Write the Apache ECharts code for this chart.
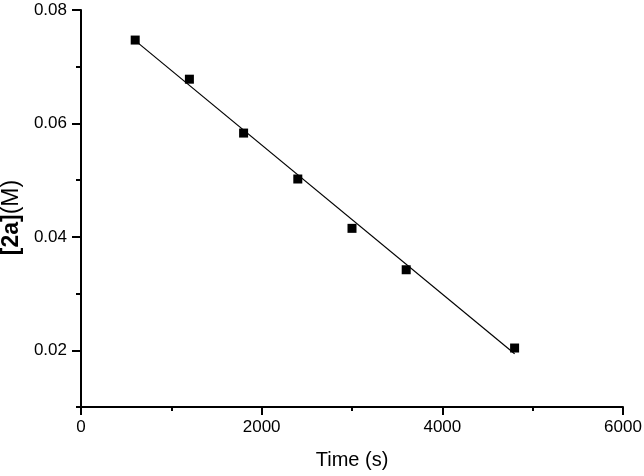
<!DOCTYPE html>
<html>
<head>
<meta charset="utf-8">
<script src="https://cdn.jsdelivr.net/npm/echarts@6/dist/echarts.min.js"></script>
<style>
html,body{margin:0;padding:0;background:#fff;}
#c{width:644px;height:476px;}
</style>
</head>
<body>
<div id="c"></div>
<script>
// Data
var timeS = [600, 1200, 1800, 2400, 3000, 3600, 4800];
var conc2a = [0.0747, 0.0678, 0.0583, 0.0502, 0.0415, 0.0342, 0.0204];
// Linear fit line endpoints
var fitX = [600, 4800];
var fitY = [0.0746, 0.0194];
// Tick labels
var yMajorTicks = [0.02, 0.04, 0.06, 0.08];

var F = '"Liberation Sans", Arial, sans-serif';
var chart = echarts.init(document.getElementById('c'), null, {renderer: 'canvas'});
var axisLineStyle = {color: '#000', width: 2};
chart.setOption({
  animation: false,
  backgroundColor: '#fff',
  grid: {left: 81, right: 21, top: 10, bottom: 69, outerBoundsMode: 'none', containLabel: false},
  xAxis: {
    type: 'value', min: 0, max: 6000, interval: 2000,
    name: 'Time (s)', nameLocation: 'middle', nameGap: 43,
    nameTextStyle: {fontFamily: F, fontSize: 20, color: '#000'},
    axisLine: {show: true, onZero: false, lineStyle: axisLineStyle},
    axisTick: {show: true, inside: false, length: 8, lineStyle: {color: '#000', width: 2}},
    minorTick: {show: true, splitNumber: 2, length: 4, lineStyle: {color: '#000', width: 2}},
    axisLabel: {fontFamily: F, fontSize: 17, color: '#000', margin: 12,
      formatter: function (v) { return String(v); }},
    splitLine: {show: false}
  },
  yAxis: [
    {
      // minor ticks (every 0.01)
      type: 'value', min: 0.01, max: 0.08, interval: 0.01,
      axisLine: {show: true, onZero: false, lineStyle: axisLineStyle},
      axisTick: {show: true, inside: false, length: 5, lineStyle: {color: '#000', width: 2}},
      axisLabel: {show: false},
      splitLine: {show: false}
    },
    {
      // major ticks + labels
      type: 'value', min: 0.01, max: 0.08, position: 'left', offset: 0,
      name: '{b|[2a]}{n|(M)}', nameLocation: 'middle', nameGap: 58,
      nameTextStyle: {fontFamily: F, fontSize: 23, color: '#000', padding: [0, 18, 0, 0],
        rich: {b: {fontFamily: F, fontSize: 23, fontWeight: 'bold', color: '#000'},
               n: {fontFamily: F, fontSize: 23, color: '#000'}}},
      axisLine: {show: false},
      axisTick: {show: true, inside: false, length: 9, customValues: yMajorTicks,
        lineStyle: {color: '#000', width: 2}},
      axisLabel: {fontFamily: F, fontSize: 17, color: '#000', margin: 14,
        customValues: yMajorTicks,
        formatter: function (v) { return v.toFixed(2); }},
      splitLine: {show: false}
    }
  ],
  series: [
    {
      type: 'line',
      data: fitX.map(function (x, i) { return [x, fitY[i]]; }),
      showSymbol: false, symbol: 'none',
      lineStyle: {color: '#000', width: 1.2},
      z: 2
    },
    {
      type: 'scatter',
      data: timeS.map(function (x, i) { return [x, conc2a[i]]; }),
      symbol: 'rect', symbolSize: 9,
      itemStyle: {color: '#000', opacity: 1},
      z: 3
    }
  ]
});
</script>
</body>
</html>
